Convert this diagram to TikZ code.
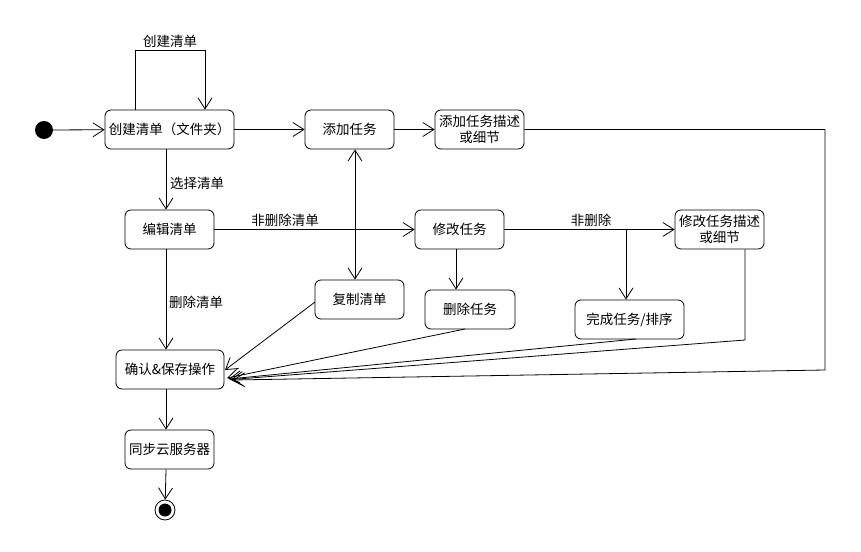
\documentclass[tikz,border=0pt]{standalone}
\usepackage{fontspec}
\setmainfont{Noto Sans CJK SC}
\usetikzlibrary{arrows.meta}
\begin{document}
\begin{tikzpicture}[x=1pt,y=-1pt,
  st/.style={draw, rounded corners=6pt, minimum height=39pt, inner sep=0.5pt,
    font=\fontsize{13.5}{16.5}\selectfont, align=center, line width=0.8pt},
  tr/.style={draw, line width=0.8pt, -{Straight Barb[length=11pt,width=14pt]}},
  ln/.style={draw, line width=0.8pt},
  lbl/.style={font=\fontsize{13.5}{15}\selectfont, inner sep=0pt}]
\useasboundingbox (0,0) rectangle (861,551);
% states
\node[circle, fill=black, minimum size=18pt, inner sep=0pt] (start) at (44,130) {};
\node[st, minimum width=129pt] (c1) at (169.5,129.5) {创建清单（文件夹）};
\node[st, minimum width=89pt] (add) at (349.5,129.5) {添加任务};
\node[st, minimum width=89pt] (adddesc) at (479.5,129.5) {添加任务描述\\或细节};
\node[st, minimum width=89pt] (edit) at (169.5,229.5) {编辑清单};
\node[st, minimum width=89pt] (mod) at (459.5,229.5) {修改任务};
\node[st, minimum width=89pt] (moddesc) at (719.5,229.5) {修改任务描述\\或细节};
\node[st, minimum width=109pt] (done) at (629.5,319.5) {完成任务/排序};
\node[st, minimum width=90pt] (del) at (470,309.5) {删除任务};
\node[st, minimum width=89pt] (copy) at (359.5,299.5) {复制清单};
\node[st, minimum width=108pt] (confirm) at (170,369.5) {确认\&保存操作};
\node[st, minimum width=89pt] (sync) at (169.5,449.5) {同步云服务器};
\node[circle, draw, line width=0.8pt, minimum size=20pt, inner sep=0pt] (end) at (165,510) {};
\fill (end.center) circle (6.5pt);
% helper coordinates
\coordinate (l1) at (135,50);
\coordinate (l2) at (205,50);
\coordinate (vx) at (166,0);
\coordinate (vc) at (355,0);
\coordinate (vd) at (456,0);
\coordinate (b) at (626,229.5);
\coordinate (r1) at (825,129.5);
\coordinate (r2) at (825,370);
\coordinate (m1) at (745,340);
\coordinate (t1) at (225,370);
\coordinate (t2) at (227,378);
\coordinate (t3) at (229,379);
\coordinate (t4) at (231,379.5);
\coordinate (t5) at (233,380);
\coordinate (s1) at (315,302);
\coordinate (s2) at (465,329);
\coordinate (s3) at (636,339);
% transitions
\draw[tr] (start) -- (c1);
\draw[tr] (c1.north -| l1) -- (l1) -- (l2) -- (c1.north -| l2);
\node[lbl] at (170,41) {创建清单};
\draw[tr] (c1) -- (add);
\draw[tr] (add) -- (adddesc);
\draw[tr] (c1.south -| vx) -- (edit.north -| vx);
\node[lbl] at (197,183) {选择清单};
\draw[tr] (edit) -- (mod);
\node[lbl] at (285,220) {非删除清单};
\draw[tr] (mod) -- (moddesc);
\node[lbl] at (591,220) {非删除};
\draw[tr] (b) -- (done.north -| b);
\draw[tr] (mod.south -| vd) -- (del.north -| vd);
\draw[tr, {Straight Barb[length=11pt,width=14pt]}-{Straight Barb[length=11pt,width=14pt]}] (add.south -| vc) -- (copy.north -| vc);
\draw[tr] (edit.south -| vx) -- (confirm.north -| vx);
\node[lbl] at (196,302) {删除清单};
\draw[tr] (s1) -- (t1);
\draw[tr] (s2) -- (t2);
\draw[tr] (s3) -- (t3);
\draw[tr] (moddesc.south -| m1) -- (m1) -- (t4);
\draw[tr] (adddesc.east) -- (r1) -- (r2) -- (t5);
\draw[tr] (confirm.south -| vx) -- (sync.north -| vx);
\draw[tr] (sync.south -| vx) -- (end);
\end{tikzpicture}
\end{document}
